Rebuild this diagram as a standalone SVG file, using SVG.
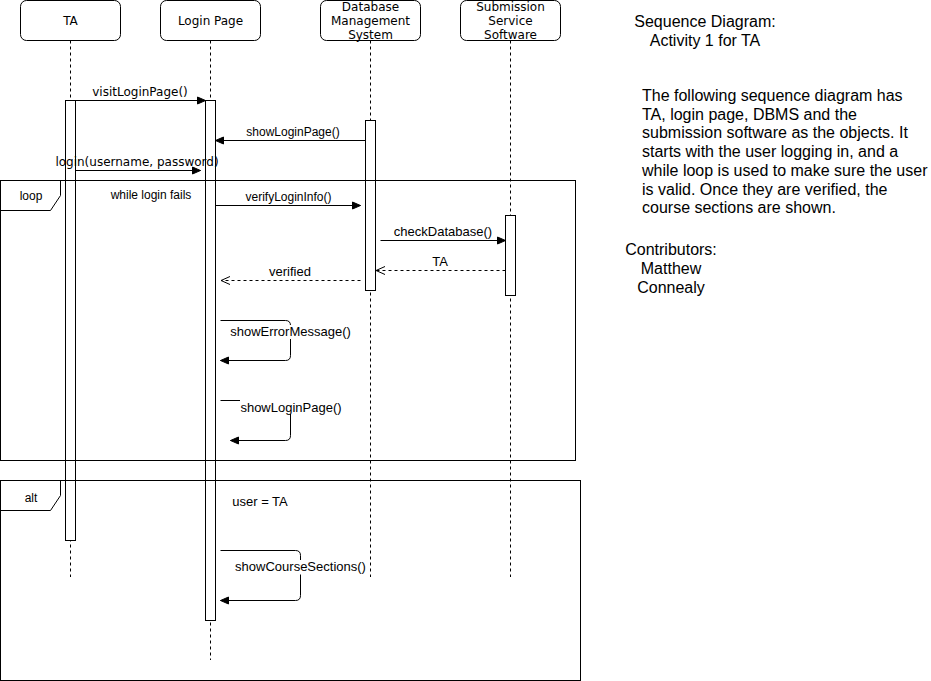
<svg xmlns="http://www.w3.org/2000/svg" width="931" height="681" viewBox="0 0 931 681">
<style>
.box{fill:#fff;stroke:#000;stroke-width:1}
.life{fill:none;stroke:#000;stroke-width:1;stroke-dasharray:3 3}
.bar{fill:#fff;stroke:#000;stroke-width:1}
.frame{fill:none;stroke:#000;stroke-width:1}
.msg{fill:none;stroke:#000;stroke-width:1;marker-end:url(#block)}
.ret{fill:none;stroke:#000;stroke-width:1;stroke-dasharray:3 3;marker-end:url(#open)}
.nl{font-family:"DejaVu Sans",sans-serif;font-size:12px;fill:#000;text-anchor:middle}
.dv{font-family:"DejaVu Sans",sans-serif;font-size:12px;fill:#000;text-anchor:middle}
.a12{font-family:"Liberation Sans",Arial,sans-serif;font-size:12px;fill:#000;text-anchor:middle}
.a13{font-family:"Liberation Sans",Arial,sans-serif;font-size:13px;fill:#000;text-anchor:middle}
.side{font-family:"Liberation Sans",Arial,sans-serif;font-size:16px;fill:#000}
.lbg{fill:#fff;stroke:none}
</style>
<defs>
<marker id="block" viewBox="-9 -5 10 10" refX="0" refY="0" markerWidth="10" markerHeight="10" markerUnits="userSpaceOnUse" orient="auto">
<path d="M-8,-3.5 L0,0 L-8,3.5 Z" fill="#000" stroke="#000" stroke-width="1"/>
</marker>
<marker id="open" viewBox="-10 -5 11 10" refX="0" refY="0" markerWidth="11" markerHeight="10" markerUnits="userSpaceOnUse" orient="auto">
<path d="M-9,-4 L0,0 L-9,4" fill="none" stroke="#000" stroke-width="1"/>
</marker>
</defs>
<rect x="0" y="0" width="931" height="681" fill="#fff"/>

<g id="lifelines">
<path class="life" d="M70.5,40.5 V577"/>
<path class="life" d="M210.5,40.5 V660"/>
<path class="life" d="M370.5,40.5 V577"/>
<path class="life" d="M510.5,40.5 V577"/>
</g>

<g id="node-ta">
<rect class="box" x="20.5" y="0.5" width="100" height="40" rx="6" ry="6"/>
<text class="nl" x="70.5" y="25">TA</text>
</g>
<g id="node-login">
<rect class="box" x="160.5" y="0.5" width="100" height="40" rx="6" ry="6"/>
<text class="nl" x="210.5" y="25">Login Page</text>
</g>
<g id="node-dbms">
<rect class="box" x="320.5" y="0.5" width="100" height="40" rx="6" ry="6"/>
<text class="nl" x="370.5" y="11">Database</text>
<text class="nl" x="370.5" y="25">Management</text>
<text class="nl" x="370.5" y="39">System</text>
</g>
<g id="node-sub">
<rect class="box" x="460.5" y="0.5" width="100" height="40" rx="6" ry="6"/>
<text class="nl" x="510.5" y="11">Submission</text>
<text class="nl" x="510.5" y="25">Service</text>
<text class="nl" x="510.5" y="39">Software</text>
</g>

<g id="activations">
<rect class="bar" x="65.5" y="100.5" width="10" height="440"/>
<rect class="bar" x="205.5" y="100.5" width="10" height="520"/>
<rect class="bar" x="365.5" y="120.5" width="10" height="170"/>
<rect class="bar" x="505.5" y="215.5" width="10" height="80"/>
</g>

<g id="frame-loop">
<rect class="frame" x="0.5" y="180.5" width="575" height="280"/>
<path class="frame" d="M0.5,180.5 H60.5 V195.5 L50.5,210.5 H0.5"/>
<text class="a12" x="31" y="200">loop</text>
<text class="a12" x="151" y="199">while login fails</text>
</g>

<g id="frame-alt">
<rect class="frame" x="0.5" y="480.5" width="580" height="200"/>
<path class="frame" d="M0.5,480.5 H60.5 V495.5 L50.5,510.5 H0.5"/>
<text class="a12" x="31" y="502">alt</text>
<text class="a13" x="260" y="505.5">user = TA</text>
</g>

<g id="connectors">
<path class="msg" d="M75.5,100.5 H205.5"/>
<text class="dv" x="140" y="95.5">visitLoginPage()</text>

<path class="msg" d="M365.5,140.5 H215.5"/>
<text class="a12" x="293" y="136">showLoginPage()</text>

<path class="msg" d="M75.5,170.5 H200.5"/>
<text class="dv" x="137" y="166">login(username, password)</text>

<path class="msg" d="M215.5,205.5 H360.5"/>
<text class="a12" x="288.5" y="200.5">verifyLoginInfo()</text>

<path class="msg" d="M380.5,240.5 H505.5"/>
<text class="a13" x="443" y="236">checkDatabase()</text>

<path class="ret" d="M505.5,270.5 H376"/>
<text class="a13" x="440" y="265.5">TA</text>

<path class="ret" d="M360.5,280.5 H221"/>
<text class="a13" x="290" y="275.5">verified</text>

<path class="msg" d="M220.5,320.5 H285.5 Q290.5,320.5 290.5,325.5 V355.5 Q290.5,360.5 285.5,360.5 H220.5"/>
<rect class="lbg" x="229" y="325" width="123" height="14"/>
<text class="a13" x="290.5" y="336">showErrorMessage()</text>

<path class="msg" d="M220.5,400.5 H285.5 Q290.5,400.5 290.5,405.5 V435.5 Q290.5,440.5 285.5,440.5 H230.5"/>
<rect class="lbg" x="240" y="398" width="103" height="16"/>
<text class="a13" x="291" y="411.5">showLoginPage()</text>

<path class="msg" d="M220.5,550.5 H295.5 Q300.5,550.5 300.5,555.5 V595.5 Q300.5,600.5 295.5,600.5 H220.5"/>
<rect class="lbg" x="234" y="560" width="133" height="14.5"/>
<text class="a13" x="300.5" y="571">showCourseSections()</text>
</g>

<g id="notes">
<text class="side" x="705" y="27" text-anchor="middle">Sequence Diagram:</text>
<text class="side" x="705" y="46" text-anchor="middle">Activity 1 for TA</text>
<text class="side" x="642" y="101">The following sequence diagram has</text>
<text class="side" x="642" y="119.7">TA, login page, DBMS and the</text>
<text class="side" x="642" y="138.4">submission software as the objects. It</text>
<text class="side" x="642" y="157.1">starts with the user logging in, and a</text>
<text class="side" x="642" y="175.8">while loop is used to make sure the user</text>
<text class="side" x="642" y="194.5">is valid. Once they are verified, the</text>
<text class="side" x="642" y="213.2">course sections are shown.</text>
<text class="side" x="671" y="255" text-anchor="middle">Contributors:</text>
<text class="side" x="671" y="274" text-anchor="middle">Matthew</text>
<text class="side" x="671" y="292.5" text-anchor="middle">Connealy</text>
</g>
</svg>
